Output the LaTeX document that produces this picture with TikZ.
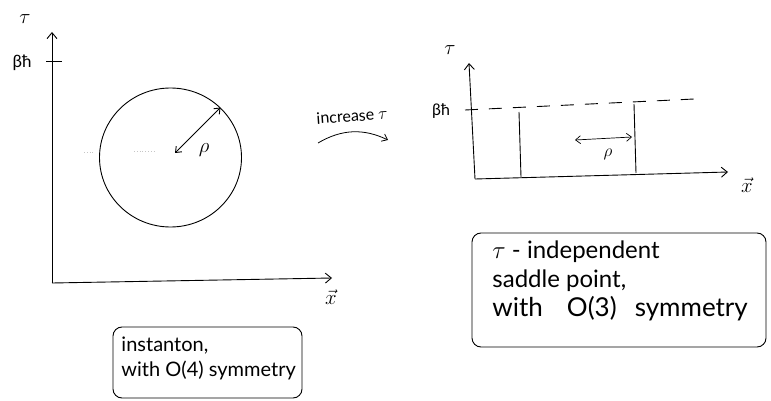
\documentclass[tikz,border=0pt]{standalone}
\usepackage{fontspec}
\setmainfont{Lato}
\usetikzlibrary{arrows.meta,shapes.geometric}
\begin{document}
\begin{tikzpicture}[x=1pt,y=-1pt,
  line width=0.9pt,
  ax/.style={-{Straight Barb[length=6pt,width=10pt]}},
  dbl/.style={{Straight Barb[length=5pt,width=8pt]}-{Straight Barb[length=5pt,width=8pt]}},
  lbl/.style={inner sep=0pt},
  boxx/.style={draw, rounded corners=9pt, inner sep=0pt},
  boxtext/.style={inner sep=0pt, anchor=west, align=left},
  faint/.style={gray!45, line width=0.8pt, dotted}]
\useasboundingbox (0,0) rectangle (771,401);

% ---------- left diagram ----------
\coordinate (lo) at (52,283);
\coordinate (ltop) at (52,32);
\coordinate (lxend) at (332,278);
\draw[ax] (lo) -- (ltop);
\draw[ax] (lo) -- (lxend);
\node[lbl, font=\fontsize{22}{22}\selectfont] (ltau) at (25,19) {$\tau$};
\node[lbl, font=\fontsize{17}{17}\selectfont] (lbeta) at (22,63) {βħ};
\coordinate (lt1) at (46,61);
\coordinate (lt2) at (62,61);
\draw[line width=0.7pt] (lt1) -- (lt2);
\node[lbl, font=\fontsize{20}{20}\selectfont] (lx) at (331,297) {$\vec{x}$};

\node[draw, ellipse, minimum width=142pt, minimum height=139pt, inner sep=0pt] (inst) at (170.5,157.5) {};
\coordinate (rs) at (175,153);
\draw[dbl] (rs) -- (inst.45);
\node[lbl, font=\fontsize{20}{20}\selectfont] (lrho) at (204,150) {$\rho$};
\coordinate (f1) at (84,152);
\coordinate (f2) at (94,152);
\coordinate (f3) at (134,151);
\coordinate (f4) at (156,151);
\draw[faint] (f1) -- (f2);
\draw[faint] (f3) -- (f4);

\node[boxx, minimum width=189pt, minimum height=71pt] (box1) at (207.5,362.5) {};
\node[boxtext, font=\fontsize{20}{25}\selectfont] (t1) at (121,358) {instanton,\\with O(4) symmetry};

% ---------- middle arrow ----------
\node[lbl, font=\fontsize{16}{16}\selectfont, rotate=4] (inc) at (352,116) {increase $\tau$};
\coordinate (ia) at (318,143);
\coordinate (ib) at (388,140);
\draw[-{Straight Barb[length=5pt,width=8pt]}, line width=0.8pt] (ia) to[bend left=28] (ib);

% ---------- right diagram ----------
\coordinate (ro) at (475,179);
\coordinate (rtop) at (469,63);
\coordinate (rxend) at (728,172);
\draw[ax] (ro) -- (rtop);
\draw[ax] (ro) -- (rxend);
\node[lbl, font=\fontsize{22}{22}\selectfont] (rtau) at (450,50) {$\tau$};
\node[lbl, font=\fontsize{16}{16}\selectfont] (rbeta) at (441,111) {βħ};
\node[lbl, font=\fontsize{20}{20}\selectfont] (rx) at (747,185) {$\vec{x}$};
\coordinate (d1) at (465,110);
\coordinate (d2) at (694,99);
\draw[dash pattern=on 13pt off 11pt] (d1) -- (d2);
\coordinate (v1a) at (519,112);
\coordinate (v1b) at (521,177);
\coordinate (v2a) at (634,104);
\coordinate (v2b) at (636,173);
\draw (v1a) -- (v1b);
\draw (v2a) -- (v2b);
\coordinate (ra) at (575,140);
\coordinate (rb) at (632,137);
\draw[dbl, line width=0.7pt] (ra) -- (rb);
\node[lbl, font=\fontsize{16}{16}\selectfont] (rrho) at (608,154) {$\rho$};

\node[boxx, minimum width=294pt, minimum height=114pt] (box2) at (619,290) {};
\node[boxtext, font=\fontsize{24}{29}\selectfont] (t2) at (492,281) {$\tau$ - independent\\saddle point,\\{\fontsize{26}{29}\selectfont with\hspace{24pt}O(3)\hspace{18pt}symmetry}};
\end{tikzpicture}
\end{document}
